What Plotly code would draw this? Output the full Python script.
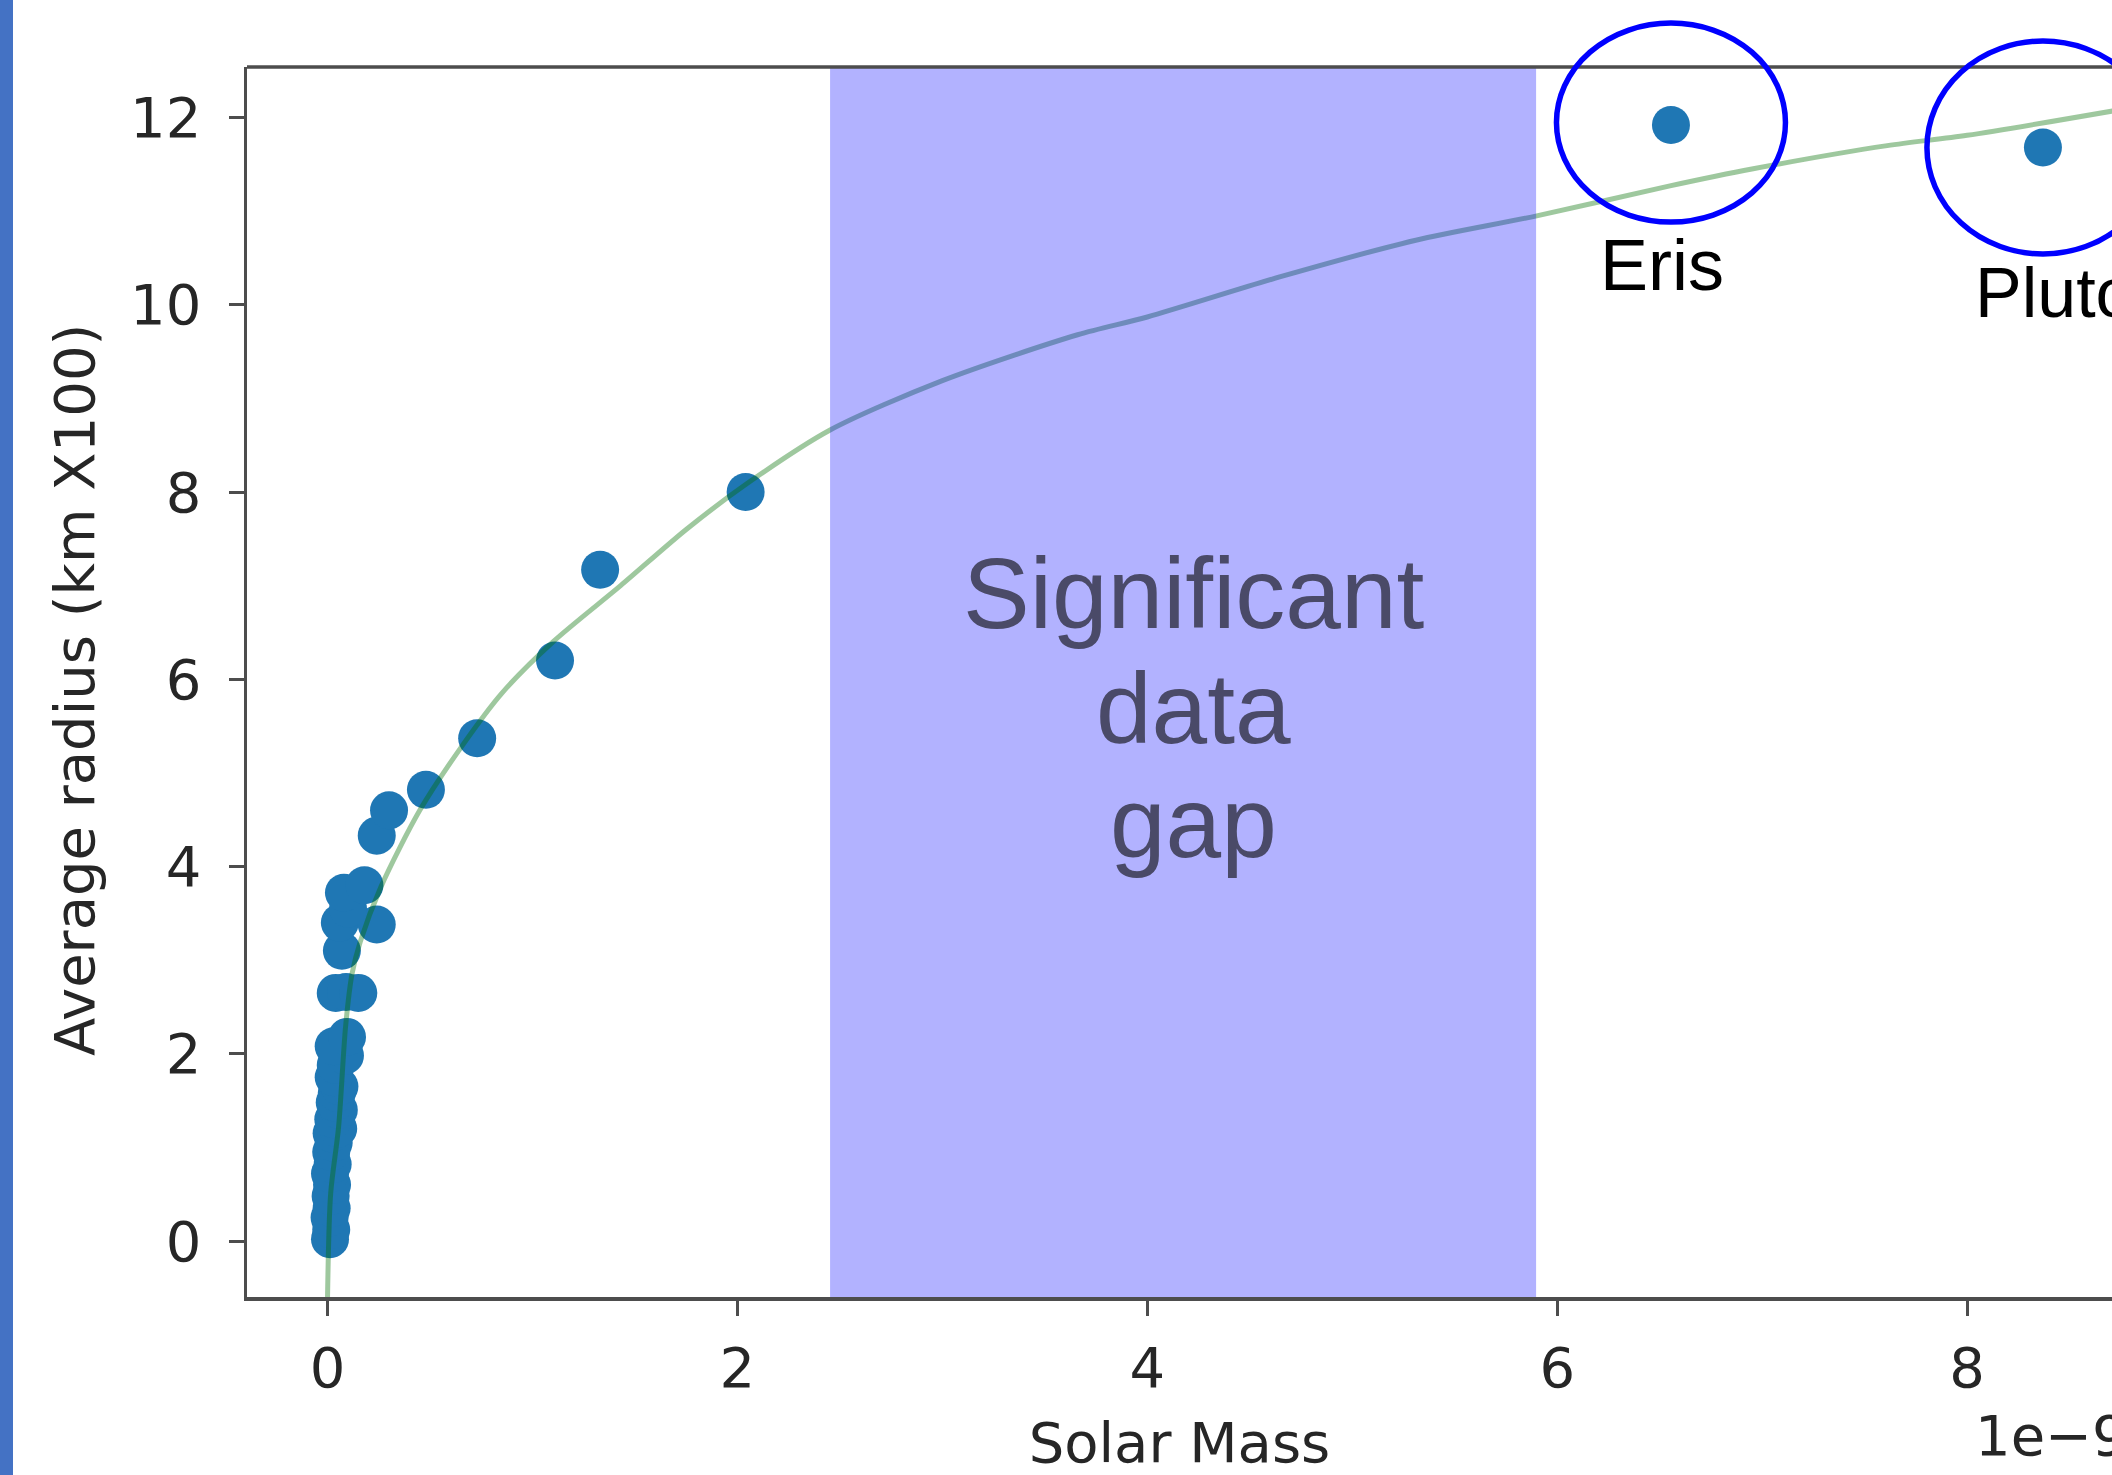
import plotly.graph_objects as go

# ---- data ----
# solar mass in units of 1e-9, radius in km x100
mass = [0.012, 0.018, 0.010, 0.020, 0.015, 0.022, 0.012, 0.025, 0.018, 0.030,
        0.020, 0.052, 0.028, 0.055, 0.035, 0.045, 0.058, 0.030, 0.040, 0.085,
        0.030, 0.095, 0.040, 0.090, 0.150, 0.070, 0.060, 0.240, 0.100, 0.080,
        0.180, 0.240, 0.300, 0.480, 0.730, 1.110, 1.330, 2.040, 6.555, 8.370]
radius = [0.02, 0.12, 0.25, 0.35, 0.48, 0.60, 0.72, 0.82, 0.95, 1.05,
          1.15, 1.20, 1.30, 1.40, 1.48, 1.58, 1.65, 1.75, 1.88, 1.98,
          2.08, 2.18, 2.65, 2.66, 2.65, 3.10, 3.40, 3.38, 3.55, 3.72,
          3.80, 4.33, 4.60, 4.82, 5.37, 6.20, 7.17, 8.00, 11.92, 11.68]

# fitted trend line, read point by point
fit_x = [0.0, 0.015, 0.054, 0.088, 0.12, 0.16, 0.26, 0.45, 0.66, 0.85, 1.10,
         1.43, 1.75, 2.04, 2.45, 3.00, 3.66, 4.00, 4.65, 5.31, 5.90, 6.55,
         6.95, 7.61, 8.00, 8.71]
fit_y = [-0.6, 0.5, 1.22, 2.29, 2.86, 3.2, 3.78, 4.6, 5.30, 5.85, 6.40,
         7.00, 7.60, 8.08, 8.66, 9.19, 9.68, 9.87, 10.30, 10.69, 10.95, 11.27,
         11.45, 11.70, 11.81, 12.07]

gap_range = [2.452, 5.897]
x_ticks = [0, 2, 4, 6, 8]
y_ticks = [0, 2, 4, 6, 8, 10, 12]
labels = ["Eris", "Pluto"]
label_points = [(6.555, 11.92), (8.370, 11.68)]
offset_text = "1e\u22129"

# ---- geometry ----
W, H = 2112, 1475
ML, MR, MT, MB = 247, 0, 67, 178
PW, PH = W - ML - MR, H - MT - MB
XR = [-0.393, 8.707]
YR = [-0.598, 12.54]

def px_x(v):
    return (v - XR[0]) / (XR[1] - XR[0])

def px_y(v):
    return (v - YR[0]) / (YR[1] - YR[0])

tick_font = dict(family="DejaVu Sans", size=56, color="#262626")
axis_col = "#4d4d4d"

fig = go.Figure()
fig.add_trace(go.Scatter(
    x=mass, y=radius, mode="markers",
    marker=dict(color="#1f77b4", size=38, line=dict(width=0)),
    hoverinfo="skip", showlegend=False))
fig.add_trace(go.Scatter(
    x=fit_x, y=fit_y, mode="lines",
    line=dict(color="rgba(0,110,0,0.38)", width=5, shape="spline", smoothing=0.8),
    hoverinfo="skip", showlegend=False))

shapes = []
# left blue bar of the slide
shapes.append(dict(type="rect", xref="paper", yref="paper",
                   x0=(0 - ML) / PW, x1=(13 - ML) / PW,
                   y0=-MB / PH, y1=(PH + MT) / PH,
                   fillcolor="#4472c4", line=dict(width=0), layer="above"))
# data gap band
shapes.append(dict(type="rect", xref="x", yref="paper",
                   x0=gap_range[0], x1=gap_range[1], y0=0, y1=1,
                   fillcolor="rgba(0,0,255,0.3)", line=dict(width=0), layer="above"))
# top spine
shapes.append(dict(type="line", xref="paper", yref="paper",
                   x0=0, x1=1, y0=1, y1=1,
                   line=dict(color=axis_col, width=3.5), layer="above"))
# highlight ellipses around Eris / Pluto points
ell = [(114.5, 99.5, -2.5), (116, 106.5, 0)]
for (xv, yv), (rx, ry, dy) in zip(label_points, ell):
    cx, cy = px_x(xv), px_y(yv) - dy / PH
    shapes.append(dict(type="circle", xref="paper", yref="paper",
                       x0=cx - rx / PW, x1=cx + rx / PW,
                       y0=cy - ry / PH, y1=cy + ry / PH,
                       line=dict(color="#0000ff", width=5.5), layer="above"))

annotations = []
gap_font = dict(family="Liberation Sans, Arial", size=100, color="#4a4a68")
for txt, yv in zip(["Significant", "data", "gap"], [6.92, 5.69, 4.48]):
    annotations.append(dict(text=txt, x=4.226, y=yv, xref="x", yref="y",
                            showarrow=False, font=gap_font,
                            xanchor="center", yanchor="middle"))
annotations.append(dict(text=labels[0], x=6.51, y=10.43, xref="x", yref="y",
                        showarrow=False, xanchor="center", yanchor="middle",
                        font=dict(family="Liberation Sans, Arial", size=72, color="#000000")))
annotations.append(dict(text=labels[1], x=8.03, y=10.13, xref="x", yref="y",
                        showarrow=False, xanchor="left", yanchor="middle",
                        font=dict(family="Liberation Sans, Arial", size=70, color="#000000")))
annotations.append(dict(text=offset_text, x=(1973 - ML) / PW, y=(MT + PH - 1435) / PH,
                        xref="paper", yref="paper", showarrow=False,
                        xanchor="left", yanchor="middle", font=tick_font))
# y axis title (placed slightly below the plot centre, as in the reference)
annotations.append(dict(text="Average radius (km X100)", textangle=-90,
                        x=(74 - ML) / PW, y=(MT + PH - 690) / PH,
                        xref="paper", yref="paper", showarrow=False,
                        xanchor="center", yanchor="middle", font=tick_font))

fig.update_layout(
    width=W, height=H,
    margin=dict(l=ML, r=MR, t=MT, b=MB, pad=0),
    paper_bgcolor="white", plot_bgcolor="white",
    shapes=shapes, annotations=annotations, showlegend=False,
    xaxis=dict(range=XR, tickvals=x_ticks, ticktext=[str(t) for t in x_ticks],
               showgrid=False, zeroline=False, showline=True,
               linecolor=axis_col, linewidth=3.5,
               ticks="outside", ticklen=15, tickwidth=3, tickcolor=axis_col,
               tickfont=tick_font, ticklabelstandoff=4,
               title=dict(text="Solar Mass", font=tick_font, standoff=25)),
    yaxis=dict(range=YR, tickvals=y_ticks, ticktext=[str(t) for t in y_ticks],
               showgrid=False, zeroline=False, showline=True,
               linecolor=axis_col, linewidth=3.5,
               ticks="outside", ticklen=15, tickwidth=3, tickcolor=axis_col,
               tickfont=tick_font, ticklabelstandoff=16),
)

fig.write_html("out.html",
               config={"displayModeBar": False, "staticPlot": True},
               post_script="document.body.style.margin='0';document.body.style.overflow='hidden';")
